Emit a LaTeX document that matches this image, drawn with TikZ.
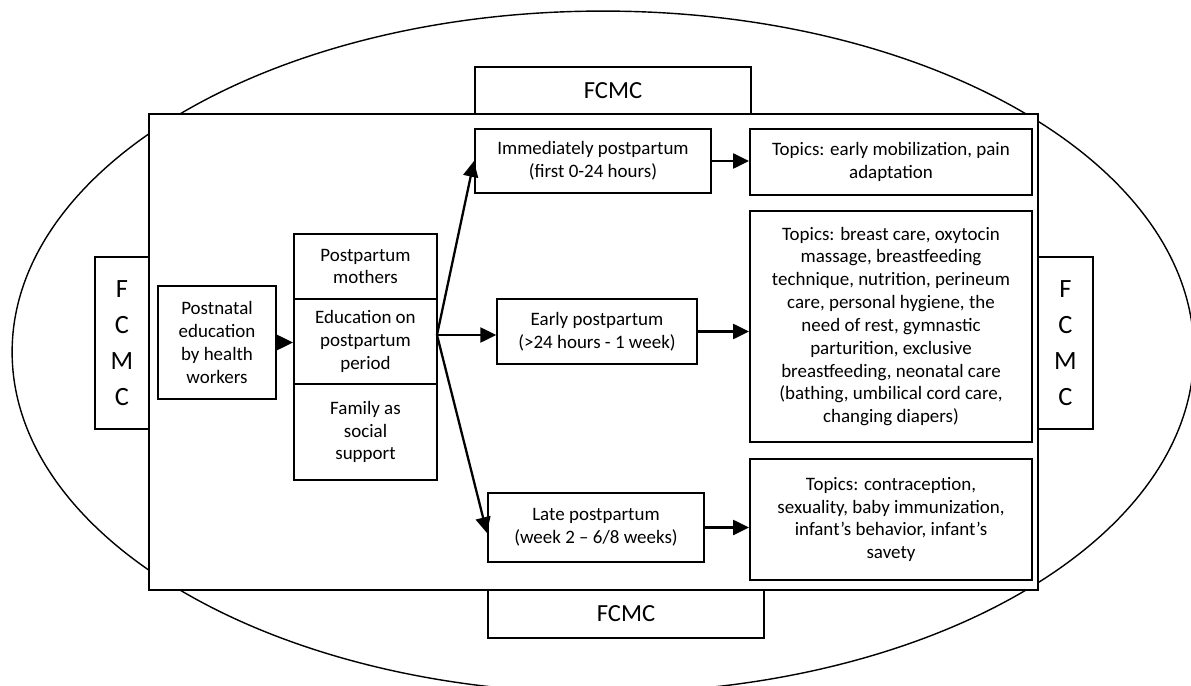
\documentclass[tikz,border=0pt]{standalone}
\usepackage{fontspec}
\setmainfont{Carlito}
\usetikzlibrary{arrows.meta}
\tikzset{
  box/.style={draw, fill=white, line width=1.2pt, align=center, inner sep=2pt,
    font=\fontsize{10.8}{13}\selectfont},
  fcmcbox/.style={box, font=\fontsize{14}{17}\selectfont},
  fcmcside/.style={box, font=\fontsize{15}{20.5}\selectfont},
  arr/.style={line width=1.3pt, -{Triangle[length=9pt,width=8.5pt]}},
}

\begin{document}
\begin{tikzpicture}[x=0.02cm, y=-0.02cm]
    \useasboundingbox (0,0) rectangle (1191,686);
    % outer oval
    \draw[line width=0.8pt] (603,352) ellipse [x radius=11.82cm, y radius=6.82cm];
    % FCMC frame
    \node[fcmcbox, minimum width=5.52cm, minimum height=0.94cm] (fcmcTop) at (613,90.5) {FCMC};
    \node[fcmcbox, minimum width=5.52cm, minimum height=0.96cm] (fcmcBot) at (626,614) {FCMC};
    \node[fcmcside, minimum width=1.08cm, minimum height=3.44cm] (fcmcLeft) at (122,343) {F\\C\\M\\C};
    \node[fcmcside, minimum width=1.10cm, minimum height=3.44cm] (fcmcRight) at (1065.5,343) {F\\C\\M\\C};
    \node[box, minimum width=17.78cm, minimum height=9.52cm] (main) at (593.5,352) {};
    % education
    \node[box, minimum width=2.36cm, minimum height=2.26cm] (post) at (217,342.5) {Postnatal\\education\\by health\\workers};
    \node[box, minimum width=2.86cm, minimum height=1.30cm] (mothers) at (365.5,266.5) {Postpartum\\mothers};
    \node[box, minimum width=2.86cm, minimum height=1.70cm] (edu) at (365.5,341.5) {Education on\\postpartum\\period};
    \node[box, minimum width=2.86cm, minimum height=1.92cm] (family) at (365.5,432) {Family as\\social\\support};
    % periods
    \node[box, minimum width=4.72cm, minimum height=1.28cm] (immed) at (593,161) {Immediately postpartum\\(first 0-24 hours)};
    \node[box, minimum width=3.99cm, minimum height=1.30cm] (early) at (597,331.5) {Early postpartum\\(>24 hours - 1 week)};
    \node[box, minimum width=4.32cm, minimum height=1.38cm] (late) at (596,527.5) {Late postpartum\\(week 2 – 6/8 weeks)};
    % topics
    \node[box, minimum width=5.64cm, minimum height=1.32cm] (topicsA) at (891,162) {Topics: early mobilization, pain\\adaptation};
    \node[box, minimum width=5.64cm, minimum height=4.62cm] (topicsB) at (891,326.5) {Topics: breast care, oxytocin\\massage, breastfeeding\\technique, nutrition, perineum\\care, personal hygiene, the\\need of rest, gymnastic\\parturition, exclusive\\breastfeeding, neonatal care\\(bathing, umbilical cord care,\\changing diapers)};
    \node[box, minimum width=5.64cm, minimum height=2.42cm] (topicsC) at (891,519.5) {Topics: contraception,\\sexuality, baby immunization,\\infant’s behavior, infant’s\\savety};
    % arrows
    \coordinate (fan) at (437,335);
    \draw[arr] (post.east) -- (post.east -| edu.west);
    \draw[arr] (fan) -- (immed.west);
    \draw[arr] (fan) -- (fan -| early.west);
    \draw[arr] (fan) -- ([yshift=-0.11cm]late.west);
    \draw[arr] (immed.east) -- (immed.east -| topicsA.west);
    \draw[arr] (early.east) -- (early.east -| topicsB.west);
    \draw[arr] (late.east) -- (late.east -| topicsC.west);
\end{tikzpicture}
\end{document}
